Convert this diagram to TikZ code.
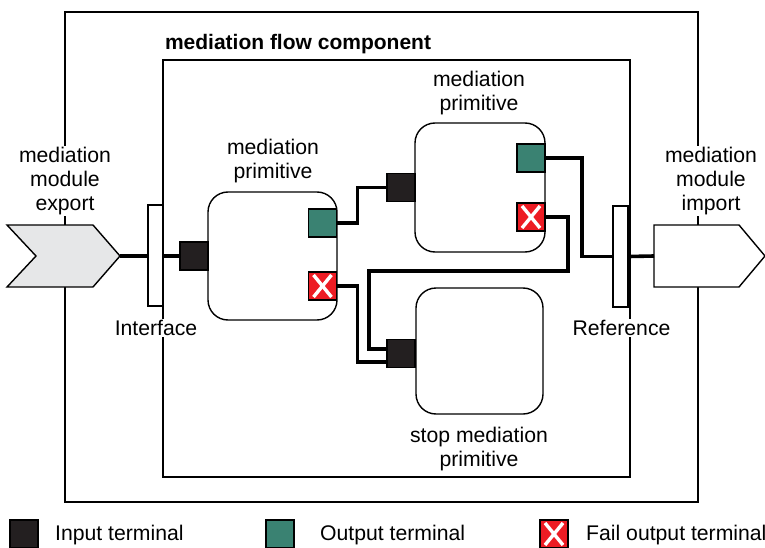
\documentclass[tikz,border=0pt]{standalone}
\usepackage{fontspec}
\setmainfont{Liberation Sans}
\begin{document}
\begin{tikzpicture}[x=1pt,y=-1pt,
  every node/.style={font=\fontsize{21.2}{24}\selectfont},
  frame/.style={draw=black,line width=1.4pt},
  prim/.style={draw=black,line width=1.4pt,fill=white,rounded corners=20pt,inner sep=0pt},
  term/.style={draw=black,line width=1.6pt,minimum width=28pt,minimum height=28pt,inner sep=0pt},
  interm/.style={term,fill=termblack},
  outterm/.style={term,fill=termteal},
  failterm/.style={term,fill=termred,path picture={
     \draw[white,line width=3.4pt] ([xshift=5pt,yshift=-3pt]path picture bounding box.north west) -- ([xshift=-5pt,yshift=3pt]path picture bounding box.south east);
     \draw[white,line width=3.4pt] ([xshift=-5pt,yshift=-3pt]path picture bounding box.north east) -- ([xshift=5pt,yshift=3pt]path picture bounding box.south west);}},
  bar/.style={draw=black,line width=1.4pt,fill=white,minimum width=15pt,minimum height=101pt,inner sep=0pt},
  wire/.style={draw=black,line width=3.6pt},
  lbl/.style={align=center,inner sep=1pt},
  wlbl/.style={align=center,inner sep=1pt,fill=white}
]
\definecolor{termblack}{RGB}{35,31,32}
\definecolor{termteal}{RGB}{58,130,114}
\definecolor{termred}{RGB}{237,28,36}
\definecolor{expgray}{RGB}{230,231,232}
\useasboundingbox (0,0) rectangle (765,548);

% frames
\draw[frame] (65,12) rectangle (698,502);
\draw[frame] (163,60) rectangle (630,477);
\node[lbl,font=\fontsize{21}{24}\selectfont\bfseries] (title) at (298,44) {mediation flow component};

% export / import
\draw[frame,fill=expgray] (7,225) -- (93,225) -- (120,256) -- (93,287) -- (7,287) -- (36,256) -- cycle;
\coordinate (exptip) at (120,256);
\draw[frame,fill=white] (654,225) -- (739,225) -- (765,256) -- (739,287) -- (654,287) -- cycle;
\coordinate (impin) at (654,256);
\node[wlbl] (explbl) at (65,181) {mediation\\module\\export};
\node[wlbl] (implbl) at (711,181) {mediation\\module\\import};

% primitives
\node[prim,minimum width=129pt,minimum height=128pt] (p1) at (272.5,256) {};
\node[prim,minimum width=130pt,minimum height=129pt] (p2) at (480,187.5) {};
\node[prim,minimum width=127pt,minimum height=126pt] (ps) at (479.5,351) {};
\node[lbl] (p1lbl) at (273,161) {mediation\\primitive};
\node[lbl] (p2lbl) at (479,93) {mediation\\primitive};
\node[lbl] (pslbl) at (479,449.5) {stop mediation\\primitive};

% terminals
\node[interm] (p1in) at (194,256) {};
\node[outterm] (p1out) at (322.5,223) {};
\node[failterm] (p1fail) at (322.5,286) {};
\node[interm] (p2in) at (401,187.5) {};
\node[outterm] (p2out) at (531,158) {};
\node[failterm] (p2fail) at (531,217) {};
\node[interm] (psin) at (401,353.5) {};

% bars
\node[bar] (iface) at (155.5,255.5) {};
\node[bar] (ref) at (620.5,256.5) {};
\node[wlbl] (ifacelbl) at (156,328) {Interface};
\node[wlbl] (reflbl) at (621.5,328) {Reference};

% wires
\draw[wire] (exptip) -- (exptip -| iface.west);
\draw[wire] (p1in.west -| iface.east) -- (p1in.west);
\draw[wire] (p1out.east) -- ++(20,0) |- (p2in.west);
\draw[wire] (p2out.east) -- ++(36,0) |- (ref.west);
\draw[wire] (ref.east) -- (impin);
\draw[wire] (p2fail.east) -- ++(22,0) -- ++(0,54) -| ([xshift=-17pt,yshift=4.5pt]psin.west) -- ([yshift=4.5pt]psin.west);
\draw[wire] (p1fail.east) -- ++(20,0) |- ([yshift=-8.5pt]psin.west);

% legend
\node[interm] (leg1) at (24,534) {};
\node[lbl,anchor=west] (leg1t) at (54,535) {Input terminal};
\node[outterm] (leg2) at (280,534) {};
\node[lbl,anchor=west] (leg2t) at (319,535) {Output terminal};
\node[failterm] (leg3) at (554,534) {};
\node[lbl,anchor=west] (leg3t) at (585,535) {Fail output terminal};
\end{tikzpicture}
\end{document}
